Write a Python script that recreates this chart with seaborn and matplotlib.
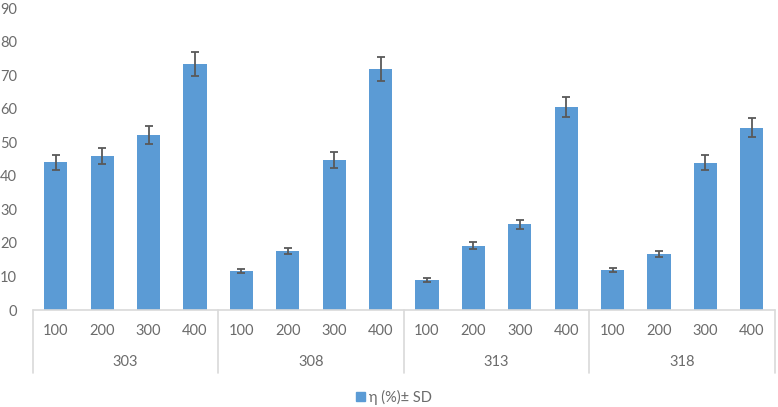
import matplotlib
matplotlib.use("Agg")
import matplotlib.pyplot as plt
import matplotlib.patches as mpatches
import seaborn as sns
import pandas as pd

# ---- data ----
temperatures = ["303", "308", "313", "318"]
concentrations = ["100", "200", "300", "400"]
eta = [44.0, 45.9, 52.1, 73.3,
       11.7, 17.5, 44.7, 71.8,
       9.0, 19.2, 25.6, 60.5,
       11.9, 16.6, 43.9, 54.3]
sd = [2.2, 2.4, 2.6, 3.7,
      0.6, 0.9, 2.3, 3.6,
      0.6, 1.0, 1.35, 3.1,
      0.7, 0.95, 2.3, 2.8]
y_ticks = [0, 10, 20, 30, 40, 50, 60, 70, 80, 90]
legend_label = "η (%)± SD"

sns.set_theme(style="white")
plt.rcParams["font.family"] = ["Lato", "DejaVu Sans"]

TEXT = "#6b6b6b"
LINE = "#D9D9D9"
BAR = "#5B9BD5"
FS = 10.5

rows = []
for i, t in enumerate(temperatures):
    for j, c in enumerate(concentrations):
        k = i * len(concentrations) + j
        rows.append({"key": f"{t}-{c}", "temp": t, "conc": c, "eta": eta[k], "sd": sd[k]})
df = pd.DataFrame(rows)
order = list(df["key"])

W, H = 778, 407
fig = plt.figure(figsize=(W / 100, H / 100), dpi=100)
left, right, top, bottom = 32.5, 775, 8, 310
ax = fig.add_axes([left / W, 1 - bottom / H, (right - left) / W, (bottom - top) / H])

sns.barplot(data=df, x="key", y="eta", order=order, color=BAR, saturation=1,
            width=0.5, errorbar=None, linewidth=0, ax=ax)
xs = list(range(len(order)))
ax.errorbar(xs, df["eta"], yerr=df["sd"], fmt="none", ecolor="#595959",
            elinewidth=1.3, capsize=3, capthick=1.3, zorder=5)

ax.set_xlim(-0.5, len(order) - 0.5)
ax.set_ylim(0, 90)
ax.set_yticks(y_ticks)
ax.set_yticklabels([str(v) for v in y_ticks], color=TEXT, fontsize=FS)
ax.tick_params(axis="y", length=0, pad=11)
ax.set_xticks([])
ax.set_xlabel("")
ax.set_ylabel("")
for s in ax.spines.values():
    s.set_visible(False)

trans = ax.get_xaxis_transform()
span = bottom - top
y_inner = -(331 - bottom) / span
y_outer = -(362 - bottom) / span
y_end = -(373 - bottom) / span

ax.plot([-0.5, len(order) - 0.5], [0, 0], transform=trans, color=LINE,
        lw=1.2, clip_on=False, zorder=6)
n = len(concentrations)
for g in range(len(temperatures) + 1):
    xb = g * n - 0.5
    ax.plot([xb, xb], [0, y_end], transform=trans, color=LINE, lw=1.2, clip_on=False)
for k, row in df.iterrows():
    ax.text(k, y_inner, row["conc"], transform=trans, ha="center", va="center",
            color=TEXT, fontsize=FS)
for g, t in enumerate(temperatures):
    ax.text(g * n + (n - 1) / 2, y_outer, t, transform=trans, ha="center",
            va="center", color=TEXT, fontsize=FS)

handle = mpatches.Patch(color=BAR, label=legend_label)
fig.legend(handles=[handle], loc="center", bbox_to_anchor=(394 / W, 1 - 397 / H),
           frameon=False, fontsize=FS, handlelength=0.65, handleheight=0.65,
           handletextpad=0.3, labelcolor=TEXT)

fig.savefig("out.png", dpi=100)
